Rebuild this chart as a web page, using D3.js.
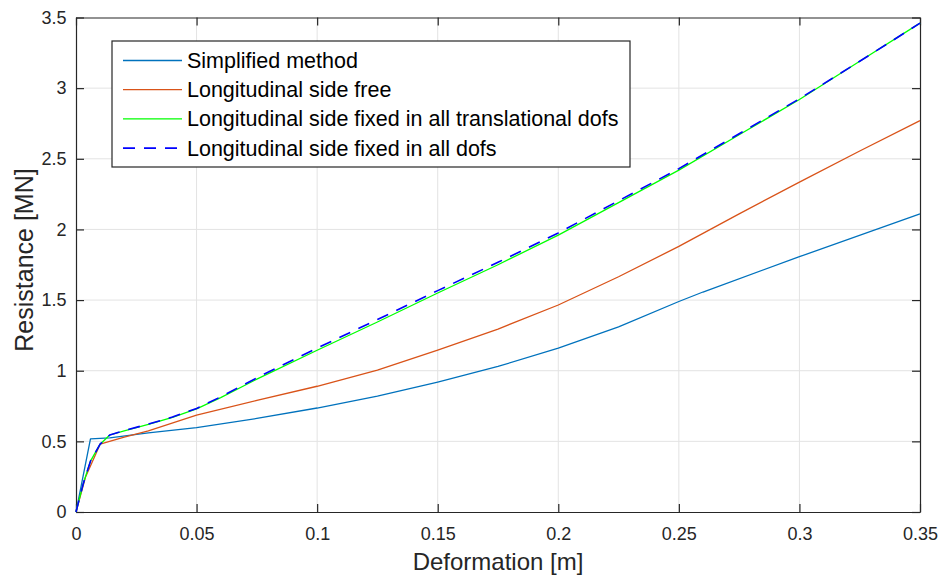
<!DOCTYPE html>
<html>
<head>
<meta charset="utf-8">
<script src="https://cdn.jsdelivr.net/npm/d3@7"></script>
<style>
  html, body { margin: 0; padding: 0; background: #fff; }
  svg { display: block; font-family: "Liberation Sans", Arial, Helvetica, sans-serif; }
</style>
</head>
<body>
<svg id="chart" width="939" height="576"></svg>
<script>
// ---- data ----
const seriesNames = [
  "Simplified method",
  "Longitudinal side free",
  "Longitudinal side fixed in all translational dofs",
  "Longitudinal side fixed in all dofs"
];
const simplifiedX = [0, 0.006, 0.014, 0.03, 0.05, 0.075, 0.1, 0.125, 0.15, 0.175, 0.2, 0.225, 0.25, 0.26, 0.3, 0.35];
const simplifiedY = [0, 0.517, 0.525, 0.56, 0.597, 0.662, 0.736, 0.82, 0.92, 1.03, 1.16, 1.31, 1.49, 1.557, 1.807, 2.11];

const freeX = [0, 0.004, 0.01, 0.02, 0.03, 0.05, 0.075, 0.1, 0.125, 0.15, 0.175, 0.2, 0.225, 0.25, 0.275, 0.3, 0.325, 0.35];
const freeY = [0, 0.25, 0.48, 0.53, 0.575, 0.685, 0.79, 0.89, 1.005, 1.145, 1.295, 1.465, 1.665, 1.88, 2.11, 2.335, 2.555, 2.77];

const fixedTransX = [0, 0.003, 0.006, 0.01, 0.014, 0.02, 0.03, 0.04, 0.05, 0.06, 0.075, 0.1, 0.125, 0.15, 0.175, 0.2, 0.225, 0.25, 0.275, 0.3, 0.325, 0.35];
const fixedTransY = [0, 0.2, 0.36, 0.48, 0.545, 0.575, 0.62, 0.67, 0.73, 0.81, 0.94, 1.145, 1.345, 1.55, 1.75, 1.96, 2.19, 2.42, 2.67, 2.92, 3.19, 3.46];

const fixedAllX = [0, 0.003, 0.006, 0.01, 0.014, 0.02, 0.03, 0.04, 0.05, 0.06, 0.075, 0.1, 0.125, 0.15, 0.175, 0.2, 0.225, 0.25, 0.275, 0.3, 0.325, 0.35];
const fixedAllY = [0, 0.2, 0.36, 0.48, 0.545, 0.577, 0.622, 0.672, 0.733, 0.815, 0.95, 1.16, 1.362, 1.567, 1.767, 1.975, 2.203, 2.43, 2.677, 2.925, 3.19, 3.46];

const xTicks = [0, 0.05, 0.1, 0.15, 0.2, 0.25, 0.3, 0.35];
const xTickLabels = ["0", "0.05", "0.1", "0.15", "0.2", "0.25", "0.3", "0.35"];
const yTicks = [0, 0.5, 1, 1.5, 2, 2.5, 3, 3.5];
const yTickLabels = ["0", "0.5", "1", "1.5", "2", "2.5", "3", "3.5"];
const xLabel = "Deformation [m]";
const yLabel = "Resistance [MN]";

// ---- layout ----
const svg = d3.select("#chart");
const L = 76, R = 920, T = 17.5, B = 512;
const x = d3.scaleLinear().domain([0, 0.35]).range([L, R]);
const y = d3.scaleLinear().domain([0, 3.5]).range([B, T]);
const axisColor = "#262626";

// grid
const grid = svg.append("g");
grid.selectAll(".gx").data(xTicks.slice(1, -1)).enter().append("line")
  .attr("x1", d => x(d)).attr("x2", d => x(d)).attr("y1", T).attr("y2", B)
  .attr("stroke", "#e3e3e3").attr("stroke-width", 1);
grid.selectAll(".gy").data(yTicks.slice(1, -1)).enter().append("line")
  .attr("y1", d => y(d)).attr("y2", d => y(d)).attr("x1", L).attr("x2", R)
  .attr("stroke", "#e3e3e3").attr("stroke-width", 1);

// axes with inward ticks
const fmtX = (d, i) => xTickLabels[i];
const fmtY = (d, i) => yTickLabels[i];
const tickLen = 8;
const gB = svg.append("g").attr("transform", `translate(0,${B})`)
  .call(d3.axisBottom(x).tickValues(xTicks).tickFormat(fmtX).tickSizeInner(-tickLen).tickSizeOuter(0).tickPadding(15));
const gL = svg.append("g").attr("transform", `translate(${L},0)`)
  .call(d3.axisLeft(y).tickValues(yTicks).tickFormat(fmtY).tickSizeInner(-tickLen).tickSizeOuter(0).tickPadding(9.5));
const gT = svg.append("g").attr("transform", `translate(0,${T})`)
  .call(d3.axisTop(x).tickValues(xTicks).tickFormat("").tickSizeInner(-tickLen).tickSizeOuter(0));
const gR = svg.append("g").attr("transform", `translate(${R},0)`)
  .call(d3.axisRight(y).tickValues(yTicks).tickFormat("").tickSizeInner(-tickLen).tickSizeOuter(0));
[gB, gL, gT, gR].forEach(g => {
  g.select(".domain").attr("stroke", axisColor).attr("stroke-width", 1.2);
  g.selectAll(".tick line").attr("stroke", axisColor).attr("stroke-width", 1.2);
  g.selectAll("text").attr("fill", axisColor).style("font-size", "18px")
    .style("font-family", '"Liberation Sans", Arial, sans-serif');
});

// lines
const lineGen = d3.line().x(d => x(d[0])).y(d => y(d[1]));
const zip = (xs, ys) => xs.map((v, i) => [v, ys[i]]);
const plotG = svg.append("g");
const styles = [
  { data: zip(simplifiedX, simplifiedY), color: "#0072BD", width: 1.3, dash: null },
  { data: zip(freeX, freeY), color: "#D95319", width: 1.3, dash: null },
  { data: zip(fixedTransX, fixedTransY), color: "#00FF00", width: 1.3, dash: null },
  { data: zip(fixedAllX, fixedAllY), color: "#0000FF", width: 1.6, dash: "12,9" }
];
styles.forEach(s => {
  plotG.append("path").datum(s.data).attr("d", lineGen)
    .attr("fill", "none").attr("stroke", s.color).attr("stroke-width", s.width)
    .attr("stroke-dasharray", s.dash).attr("stroke-linejoin", "round");
});

// legend
const lg = svg.append("g");
lg.append("rect").attr("x", 112).attr("y", 41).attr("width", 518).attr("height", 126)
  .attr("fill", "#fff").attr("stroke", axisColor).attr("stroke-width", 1.2);
styles.forEach((s, i) => {
  const yy = 60.5 + i * 29.2;
  lg.append("line").attr("x1", 123).attr("x2", 182).attr("y1", yy).attr("y2", yy)
    .attr("stroke", s.color).attr("stroke-width", s.width).attr("stroke-dasharray", s.dash);
  lg.append("text").attr("x", 187).attr("y", yy + 7.5).text(seriesNames[i])
    .attr("fill", "#000").style("font-size", "21.5px");
});

// axis labels
svg.append("text").attr("x", (L + R) / 2).attr("y", 570).attr("text-anchor", "middle")
  .attr("fill", axisColor).style("font-size", "24px").text(xLabel);
svg.append("text").attr("transform", `translate(33,260) rotate(-90)`)
  .attr("text-anchor", "middle").attr("fill", axisColor).style("font-size", "25px").text(yLabel);
</script>
</body>
</html>
